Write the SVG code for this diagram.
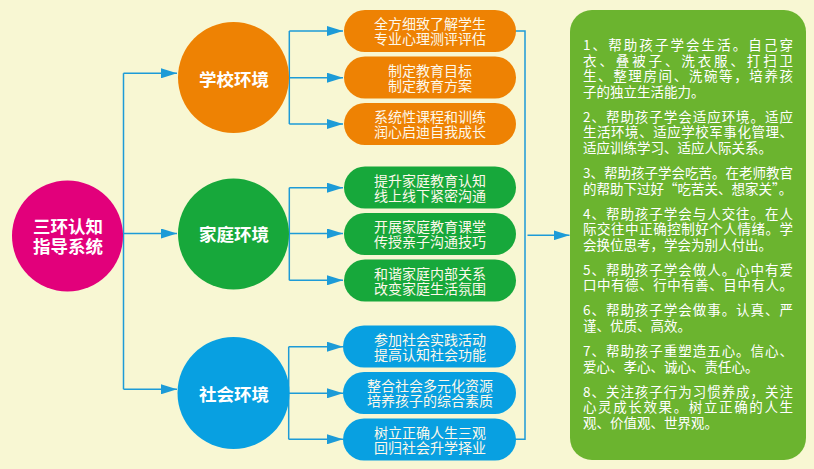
<svg xmlns="http://www.w3.org/2000/svg" width="814" height="469" viewBox="0 0 814 469">
<defs>
<marker id="ah" viewBox="0 0 16 10" refX="16" refY="5" markerWidth="16" markerHeight="10" markerUnits="userSpaceOnUse" orient="auto">
<path d="M0,0 L16,5 L0,10 Z" fill="#1d9bd7"/>
</marker>
<style>
.cn{font-family:"Noto Sans CJK SC","Liberation Sans",sans-serif;fill:#ffffff}
.big{font-size:17.5px;font-weight:bold;text-anchor:middle}
.bx{font-size:14px;text-anchor:middle;fill:#fdf8ea}
.pn{font-size:13.5px}
.ln{fill:none;stroke:#1d9bd7;stroke-width:1.5}
.ar{fill:none;stroke:#1d9bd7;stroke-width:1.5;marker-end:url(#ah)}
.or{fill:#ee8203}
.gr{fill:#17a83b}
.bl{fill:#08a0e1}
</style>
</defs>
<rect x="0" y="0" width="814" height="469" fill="#f8f7d3"/>

<g id="connectors">
<path class="ln" d="M123.5,73.3 V389.3"/>
<path class="ar" d="M123.5,73.3 H177"/>
<path class="ar" d="M122,233.5 H177"/>
<path class="ar" d="M123.5,389.3 H177"/>
<path class="ln" d="M289.3,31 V124"/>
<path class="ar" d="M289.3,31 H343"/>
<path class="ar" d="M289,77.7 H343"/>
<path class="ar" d="M289.3,124 H343"/>
<path class="ln" d="M289.3,187.7 V280.3"/>
<path class="ar" d="M289.3,187.7 H343"/>
<path class="ar" d="M289,233.5 H343"/>
<path class="ar" d="M289.3,280.3 H343"/>
<path class="ln" d="M288.7,346.7 V439.3"/>
<path class="ar" d="M288.7,346.7 H343"/>
<path class="ar" d="M288.5,393.3 H343"/>
<path class="ar" d="M288.7,439.3 H343"/>
<path class="ln" d="M515,31 H525 V439.3 H515"/>
<path class="ar" d="M527.5,235.3 H569.5"/>
</g>

<g id="root">
<circle cx="67.5" cy="236" r="55.5" fill="#e2007b"/>
<text class="cn big" x="68" y="232.5">三环认知</text>
<text class="cn big" x="68" y="252.5">指导系统</text>
</g>

<g id="school">
<circle cx="233.5" cy="77.5" r="55.5" class="or"/>
<text class="cn big" x="234" y="85.5">学校环境</text>
</g>
<g id="family">
<circle cx="233.5" cy="234" r="55.5" class="gr"/>
<text class="cn big" x="234" y="241">家庭环境</text>
</g>
<g id="society">
<circle cx="233.5" cy="393" r="56" class="bl"/>
<text class="cn big" x="234" y="400.5">社会环境</text>
</g>

<g id="s1"><rect x="344" y="10" width="172" height="42" rx="21" class="or"/>
<text class="cn bx" x="430" y="29.3">全方细致了解学生</text><text class="cn bx" x="430" y="44.3">专业心理测评评估</text></g>
<g id="s2"><rect x="344" y="56.5" width="172" height="42" rx="21" class="or"/>
<text class="cn bx" x="430" y="75.8">制定教育目标</text><text class="cn bx" x="430" y="90.8">制定教育方案</text></g>
<g id="s3"><rect x="344" y="103" width="172" height="42" rx="21" class="or"/>
<text class="cn bx" x="430" y="122.3">系统性课程和训练</text><text class="cn bx" x="430" y="137.3">润心启迪自我成长</text></g>

<g id="f1"><rect x="344" y="166.5" width="172" height="42" rx="21" class="gr"/>
<text class="cn bx" x="430" y="185.8">提升家庭教育认知</text><text class="cn bx" x="430" y="200.8">线上线下紧密沟通</text></g>
<g id="f2"><rect x="344" y="213" width="172" height="42" rx="21" class="gr"/>
<text class="cn bx" x="430" y="232.3">开展家庭教育课堂</text><text class="cn bx" x="430" y="247.3">传授亲子沟通技巧</text></g>
<g id="f3"><rect x="344" y="259.5" width="172" height="42" rx="21" class="gr"/>
<text class="cn bx" x="430" y="278.8">和谐家庭内部关系</text><text class="cn bx" x="430" y="293.8">改变家庭生活氛围</text></g>

<g id="c1"><rect x="343" y="325.5" width="173" height="42" rx="21" class="bl"/>
<text class="cn bx" x="430" y="344.8">参加社会实践活动</text><text class="cn bx" x="430" y="359.8">提高认知社会功能</text></g>
<g id="c2"><rect x="343" y="372" width="173" height="42" rx="21" class="bl"/>
<text class="cn bx" x="430" y="391.3">整合社会多元化资源</text><text class="cn bx" x="430" y="406.3">培养孩子的综合素质</text></g>
<g id="c3"><rect x="343" y="418.5" width="173" height="42" rx="21" class="bl"/>
<text class="cn bx" x="430" y="437.8">树立正确人生三观</text><text class="cn bx" x="430" y="452.8">回归社会升学择业</text></g>

<g id="panel">
<rect x="570" y="10" width="236" height="450" rx="22" fill="#6bb42f"/>
<g class="cn pn">
<text x="583" y="50" textLength="210" lengthAdjust="spacing">1、帮助孩子学会生活。自己穿</text>
<text x="583" y="65.6" textLength="210" lengthAdjust="spacing">衣、叠被子、洗衣服、打扫卫</text>
<text x="583" y="81.2" textLength="210" lengthAdjust="spacing">生、整理房间、洗碗等，培养孩</text>
<text x="583" y="96.8">子的独立生活能力。</text>
<text x="583" y="121.8" textLength="210" lengthAdjust="spacing">2、帮助孩子学会适应环境。适应</text>
<text x="583" y="137.4" textLength="210" lengthAdjust="spacing">生活环境、适应学校军事化管理、</text>
<text x="583" y="153">适应训练学习、适应人际关系。</text>
<text x="583" y="178" textLength="210" lengthAdjust="spacing">3、帮助孩子学会吃苦。在老师教官</text>
<text x="583" y="193.6">的帮助下过好“吃苦关、想家关”。</text>
<text x="583" y="218.6" textLength="210" lengthAdjust="spacing">4、帮助孩子学会与人交往。在人</text>
<text x="583" y="234.2" textLength="210" lengthAdjust="spacing">际交往中正确控制好个人情绪。学</text>
<text x="583" y="249.8">会换位思考，学会为别人付出。</text>
<text x="583" y="274.8" textLength="210" lengthAdjust="spacing">5、帮助孩子学会做人。心中有爱</text>
<text x="583" y="290.4" textLength="210" lengthAdjust="spacing">口中有德、行中有善、目中有人。</text>
<text x="583" y="315.4" textLength="210" lengthAdjust="spacing">6、帮助孩子学会做事。认真、严</text>
<text x="583" y="331">谨、优质、高效。</text>
<text x="583" y="356" textLength="210" lengthAdjust="spacing">7、帮助孩子重塑造五心。信心、</text>
<text x="583" y="371.6">爱心、孝心、诚心、责任心。</text>
<text x="583" y="396.6" textLength="210" lengthAdjust="spacing">8、关注孩子行为习惯养成，关注</text>
<text x="583" y="412.2" textLength="210" lengthAdjust="spacing">心灵成长效果。树立正确的人生</text>
<text x="583" y="427.8">观、价值观、世界观。</text>
</g>
</g>
</svg>
